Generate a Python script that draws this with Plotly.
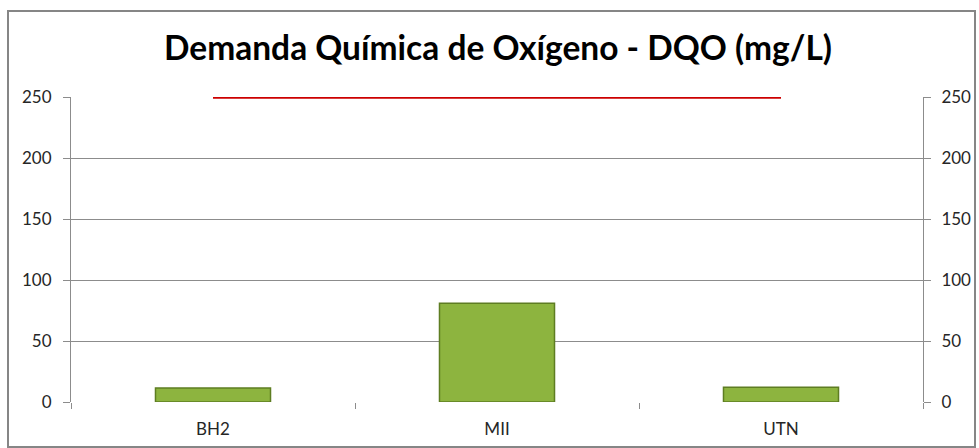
import plotly.graph_objects as go

categories = ["BH2", "MII", "UTN"]
dqo_values = [11.5, 81, 12]
limit_values = [250, 250, 250]
y_ticks = [0, 50, 100, 150, 200, 250]

W, H = 979, 448
L, R, T, B = 71, 56, 97, 46
pw, ph = W - L - R, H - T - B

fig = go.Figure()
fig.add_trace(go.Bar(
    x=categories, y=dqo_values, width=0.405,
    marker=dict(color="#8DB43F", line=dict(color="#5E7D22", width=1.5)),
    showlegend=False,
))
fig.add_trace(go.Scatter(
    x=categories, y=limit_values, yaxis="y2", mode="lines",
    line=dict(color="#CC0000", width=3.5), showlegend=False,
))

FONT = "Lato, Open Sans, sans-serif"
axis_font = dict(family=FONT, size=17, color="#262626")
fig.update_layout(
    width=W, height=H,
    margin=dict(l=L, r=R, t=T, b=B, autoexpand=False),
    paper_bgcolor="white", plot_bgcolor="white",
    title=dict(text="Demanda Química de Oxígeno - DQO (mg/L)",
               x=498 / W, xanchor="center", y=1 - 48 / H, yanchor="middle",
               font=dict(family=FONT, size=33.5, color="black", weight="bold")),
    xaxis=dict(type="category", tickson="boundaries", ticks="outside", ticklen=6,
               tickcolor="#8C8C8C", showgrid=False, showline=False, automargin=False,
               tickfont=dict(family=FONT, size=17, color="#262626"),
               ticklabelstandoff=15),
    yaxis=dict(range=[0, 250], tickvals=y_ticks, ticks="outside", ticklen=7,
               tickcolor="#8C8C8C", showgrid=True, gridcolor="#8C8C8C", gridwidth=1,
               showline=True, linecolor="#8C8C8C", linewidth=1, zeroline=False,
               automargin=False, tickfont=axis_font, ticklabelstandoff=8),
    yaxis2=dict(range=[0, 250], tickvals=y_ticks, overlaying="y", side="right",
                ticks="outside", ticklen=7, tickcolor="#8C8C8C", showgrid=False,
                showline=True, linecolor="#8C8C8C", linewidth=1, zeroline=False,
                automargin=False, tickfont=axis_font, ticklabelstandoff=7),
)
fig.add_shape(type="rect", xref="paper", yref="paper",
              x0=(8 - L) / pw, x1=(975 - L) / pw,
              y0=(H - B - 447) / ph, y1=(H - B - 11) / ph,
              line=dict(color="#868686", width=2), fillcolor="rgba(0,0,0,0)", layer="below")
fig.write_html("out.html", config={"displayModeBar": False},
               post_script="document.body.style.margin='0';")
